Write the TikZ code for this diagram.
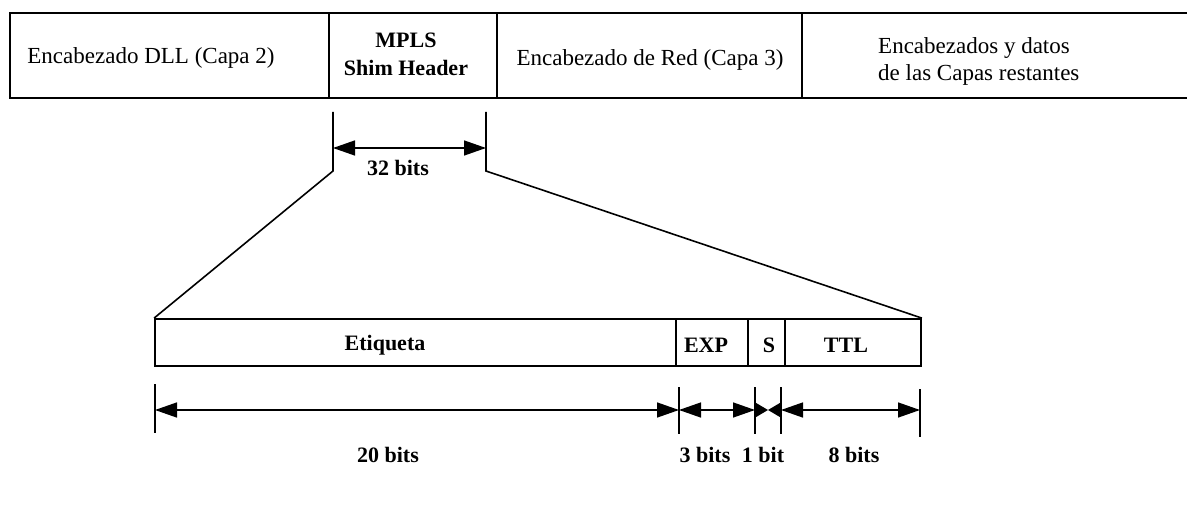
\documentclass[tikz,border=0pt]{standalone}
\usepackage{fontspec}
\setmainfont{Liberation Serif}
\usetikzlibrary{arrows.meta}
\begin{document}
\begin{tikzpicture}[x=1pt,y=-1pt,
  box/.style={draw,line width=1.8pt,rectangle,inner sep=0pt},
  openbox/.style={rectangle,inner sep=0pt},
  lbl/.style={font=\fontsize{23}{27}\selectfont,inner sep=0pt},
  blbl/.style={font=\fontsize{22}{28}\selectfont\bfseries,align=center,inner sep=0pt},
  dim/.style={line width=1.4pt,{Triangle[length=22pt,width=15pt]}-{Triangle[length=22pt,width=15pt]}},
  half/.style={line width=1.4pt,-{Triangle[length=13pt,width=15pt]}},
  tick/.style={line width=1.6pt},
  conn/.style={line width=1.6pt}]
\useasboundingbox (0,0) rectangle (1187,508);
% top row
\node[box,minimum width=319pt,minimum height=85pt] (dll) at (169.5,55.5) {};
\node[box,minimum width=168pt,minimum height=85pt] (mpls) at (413,55.5) {};
\node[box,minimum width=305pt,minimum height=85pt] (red) at (649.5,55.5) {};
\node[openbox,minimum width=385pt,minimum height=85pt] (rest) at (994.5,55.5) {};
\draw[line width=1.8pt] (rest.north east) -- (rest.north west) -- (rest.south west) -- (rest.south east);
\node[lbl] (tdll) at (151,58) {Encabezado DLL (Capa 2)};
\node[blbl] (tmpls) at (406,54) {MPLS\\Shim Header};
\node[lbl] (tred) at (650,60) {Encabezado de Red (Capa 3)};
\node[lbl,align=left,anchor=west] (trest) at (878,61) {Encabezados y datos\\de las Capas restantes};
% bottom row
\node[box,minimum width=521pt,minimum height=47pt] (etq) at (415.5,342.5) {};
\node[box,minimum width=72pt,minimum height=47pt] (exp) at (712,342.5) {};
\node[box,minimum width=37pt,minimum height=47pt] (s) at (766.5,342.5) {};
\node[box,minimum width=136pt,minimum height=47pt] (ttl) at (853,342.5) {};
\node[blbl] (tetq) at (385,345) {Etiqueta};
\node[blbl] (texp) at (706,345) {EXP};
\node[blbl] (ts) at (769,345) {S};
\node[blbl] (tttl) at (846,345) {TTL};
% expansion lines
\coordinate (a1) at (333,112);
\coordinate (a2) at (333,171);
\coordinate (b1) at (486,112);
\coordinate (b2) at (486,171);
\draw[conn] (a1) -- (a2) -- (etq.north west);
\draw[conn] (b1) -- (b2) -- (ttl.north east);
\coordinate (m1) at (333,148);
\coordinate (m2) at (486,148);
\draw[dim] (m1) -- (m2);
\node[blbl] (t32) at (398,168) {32 bits};
% dimension ticks
\coordinate (k1t) at (155,384); \coordinate (k1b) at (155,433);
\coordinate (k2t) at (679,387); \coordinate (k2b) at (679,434);
\coordinate (k3t) at (755,387); \coordinate (k3b) at (755,434);
\coordinate (k4t) at (781,387); \coordinate (k4b) at (781,434);
\coordinate (k5t) at (920,389); \coordinate (k5b) at (920,437);
\foreach \k in {k1,k2,k3,k4,k5} {\draw[tick] (\k t) -- (\k b);}
\coordinate (d1) at (155,410);
\coordinate (d2) at (679,410);
\coordinate (d3) at (755,410);
\coordinate (dm) at (768,410);
\coordinate (d4) at (781,410);
\coordinate (d5) at (920,410);
\draw[dim] (d1) -- (d2);
\draw[dim] (d2) -- (d3);
\draw[half] (d3) -- (dm);
\draw[half] (d4) -- (dm);
\draw[dim] (d4) -- (d5);
\node[blbl] (l20) at (388,455) {20 bits};
\node[blbl] (l3) at (705,455) {3 bits};
\node[blbl] (l1) at (763,455) {1 bit};
\node[blbl] (l8) at (854,455) {8 bits};
\end{tikzpicture}
\end{document}
